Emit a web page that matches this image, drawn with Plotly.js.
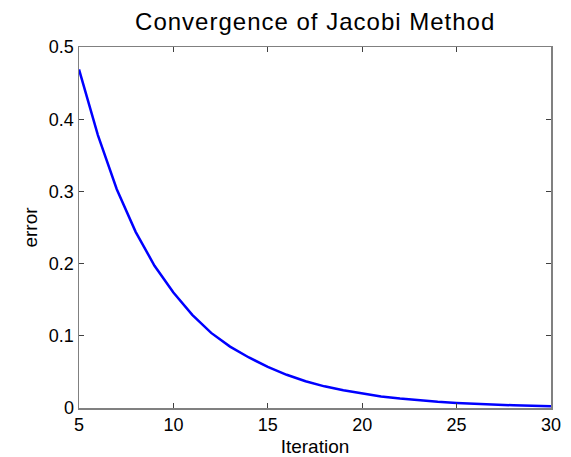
<!DOCTYPE html>
<html>
<head>
<meta charset="utf-8">
<script src="https://cdn.plot.ly/plotly-3.0.1.min.js"></script>
<style>html,body{margin:0;padding:0;background:#fff;}#chart{width:571px;height:457px;}
.gtitle{letter-spacing:1px;}
.xtitle{transform:translateY(7px);}</style>
</head>
<body>
<div id="chart"></div>
<script>
const iterations = [5,6,7,8,9,10,11,12,13,14,15,16,17,18,19,20,21,22,23,24,25,26,27,28,29,30];
const errors = [0.469,0.378,0.303,0.244,0.197,0.16,0.129,0.104,0.085,0.070,0.057,0.046,0.037,0.030,0.0245,0.0198,0.016,0.013,0.0105,0.0085,0.0069,0.0056,0.0046,0.0037,0.003,0.0024];
const xTicks = [5,10,15,20,25,30];
const yTicks = [0,0.1,0.2,0.3,0.4,0.5];
const yTickText = ['0','0.1','0.2','0.3','0.4','0.5'];

const font = 'Liberation Sans, Arial, sans-serif';
const trace = {
  x: iterations, y: errors, type: 'scatter', mode: 'lines',
  line: {color: '#0000ff', width: 2.5}, hoverinfo: 'none'
};
const axisCommon = {
  showgrid: false, zeroline: false, showline: true, linecolor: '#808080', linewidth: 1.5,
  mirror: 'ticks', ticks: 'inside', ticklen: 5, tickcolor: '#404040', tickwidth: 1,
  tickfont: {family: font, size: 18, color: '#000'}
};
const layout = {
  width: 571, height: 457,
  margin: {l: 79, r: 20, t: 47, b: 49, pad: 0},
  paper_bgcolor: '#fff', plot_bgcolor: '#fff',
  showlegend: false,
  title: {text: 'Convergence of Jacobi Method', font: {family: font, size: 24, color: '#000'},
          x: 0.552, xanchor: 'center', y: 0.953, yanchor: 'middle'},
  xaxis: Object.assign({}, axisCommon, {
    range: [5, 30], tickvals: xTicks, ticktext: xTicks.map(String),
    title: {text: 'Iteration', font: {family: font, size: 19, color: '#000'}, standoff: 0}
  }),
  yaxis: Object.assign({}, axisCommon, {
    range: [0, 0.5], tickvals: yTicks, ticktext: yTickText,
    title: {text: 'error', font: {family: font, size: 19, color: '#000'}, standoff: 6}
  })
};
Plotly.newPlot('chart', [trace], layout, {displayModeBar: false, staticPlot: true});
</script>
</body>
</html>
